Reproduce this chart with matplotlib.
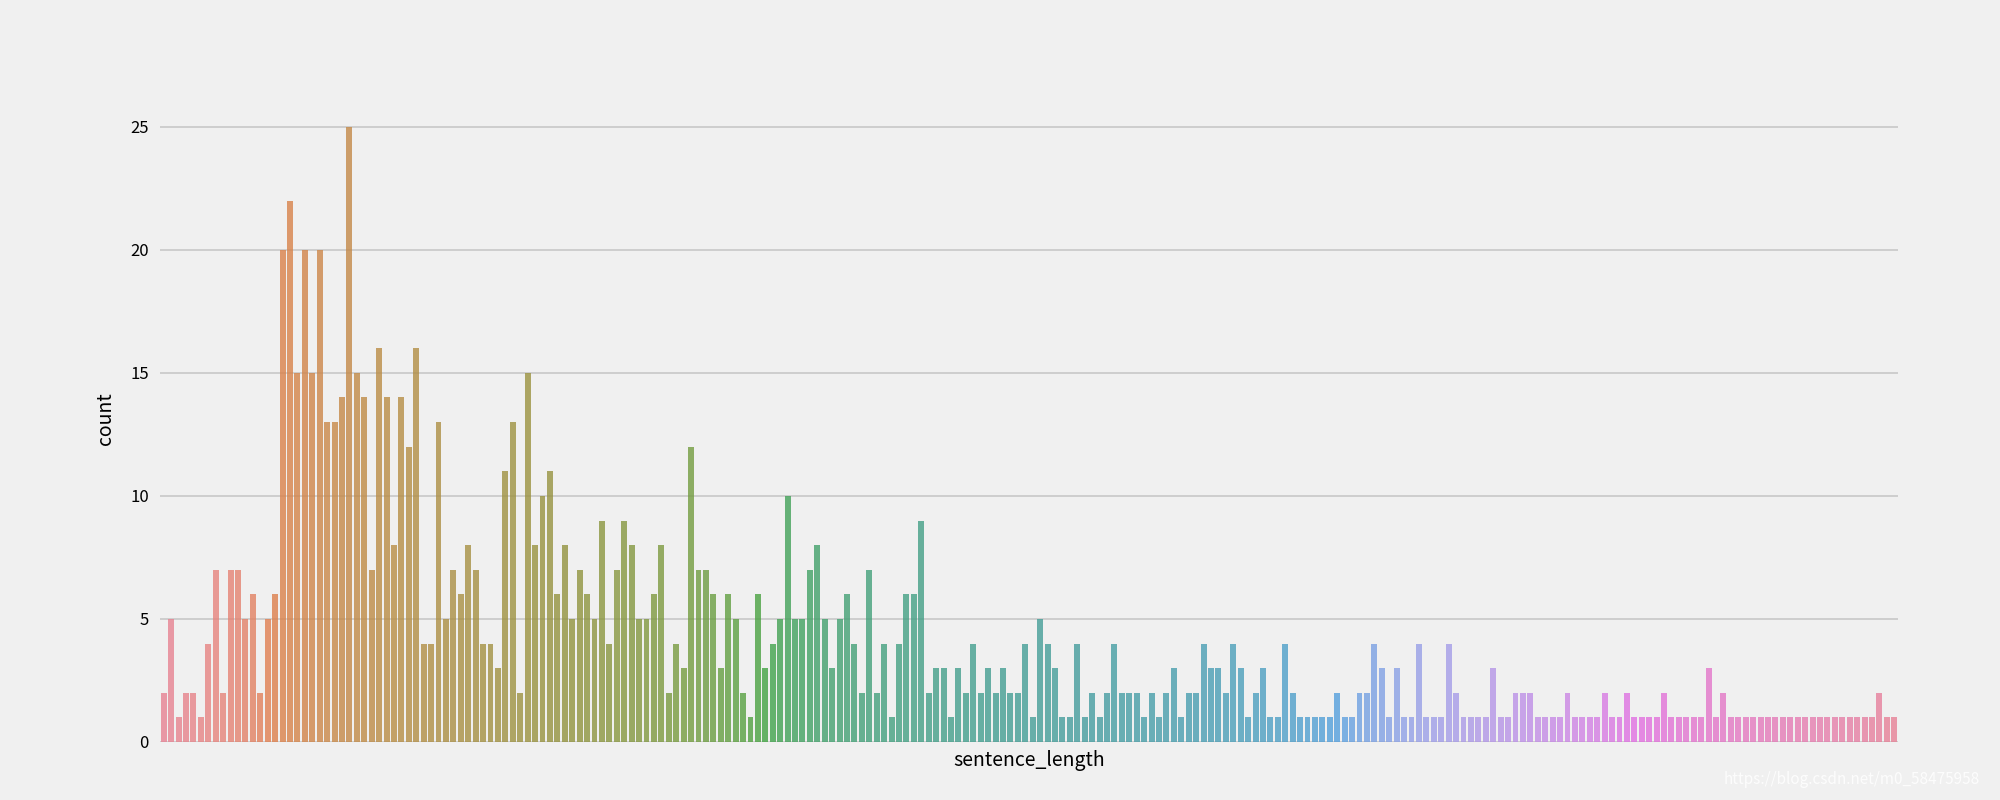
import matplotlib

matplotlib.use("Agg")
import matplotlib.pyplot as plt
import numpy as np
import seaborn as sns

# counts per sentence_length category left to right
counts_a = [2, 5, 1, 2, 2, 1, 4, 7, 2, 7, 7, 5, 6, 2, 5, 6, 20, 22, 15, 20, 15, 20, 13, 13, 14, 25,
            15, 14, 7, 16, 14, 8, 14, 12, 16, 4, 4, 13, 5, 7, 6, 8, 7, 4, 4, 3, 11, 13, 2, 15, 8, 10,
            11, 6, 8, 5, 7, 6, 5, 9, 4, 7, 9, 8, 5, 5, 6, 8, 2, 4, 3, 12, 7, 7, 6, 3, 6, 5, 2]
counts_b = [1, 6, 3, 4, 5, 10, 5, 5, 7, 8, 5, 3, 5, 6, 4, 2, 7, 2, 4, 1, 4, 6, 6, 9, 2, 3, 3, 1, 3,
            2, 4, 2, 3, 2, 3, 2, 2, 4]
counts_c = [1, 5, 4, 3, 1, 1, 4, 1, 2, 1, 2, 4, 2, 2, 2, 1, 2, 1, 2, 3, 1, 2, 2, 4, 3, 3, 2, 4, 3,
            1, 2, 3, 1, 1, 4, 2, 1, 1, 1]
counts_d = [1, 1, 2, 1, 1, 2, 2, 4, 3, 1, 3, 1, 1, 4, 1, 1, 1, 4, 2, 1, 1, 1, 1, 3, 1, 1, 2, 2, 2,
            1, 1, 1, 1, 2, 1, 1, 1, 1, 2]
counts_e = [1, 1, 2, 1, 1, 1, 1, 2, 1, 1, 1, 1, 1, 3, 1, 2] + [1] * 20 + [2, 1, 1]

counts = counts_a + counts_b + counts_c + counts_d + counts_e
categories = [str(i) for i in range(len(counts))]

plt.rcParams["font.family"] = ["Noto Sans CJK SC", "DejaVu Sans"]

fig = plt.figure(figsize=(20, 8), dpi=100, facecolor="#f0f0f0")
ax = fig.add_axes([0.08, 0.0725, 0.869, 0.8075], facecolor="#f0f0f0")

palette = sns.husl_palette(len(counts))
sns.barplot(x=categories, y=counts, hue=categories, palette=palette, legend=False,
            saturation=0.75, width=0.8, alpha=0.8, ax=ax)

ax.set_xlim(-0.5, len(counts) - 0.5)
ax.set_ylim(0, 26.25)
ax.set_yticks([0, 5, 10, 15, 20, 25])
ax.set_xticks([])
ax.yaxis.grid(True, color="#cbcbcb", linewidth=1.3)
ax.xaxis.grid(False)
ax.set_axisbelow(True)
for spine in ax.spines.values():
    spine.set_visible(False)
ax.tick_params(axis="y", length=0, labelsize=12, pad=8)
ax.set_xlabel("sentence_length", fontsize=14, labelpad=6)
ax.set_ylabel("count", fontsize=14, labelpad=10)

fig.text(0.99, 0.015, "https://blog.csdn.net/m0_58475958", ha="right", va="bottom",
         fontsize=11, color="#ffffff", alpha=0.85)

fig.savefig("out.png", dpi=100, facecolor=fig.get_facecolor())
